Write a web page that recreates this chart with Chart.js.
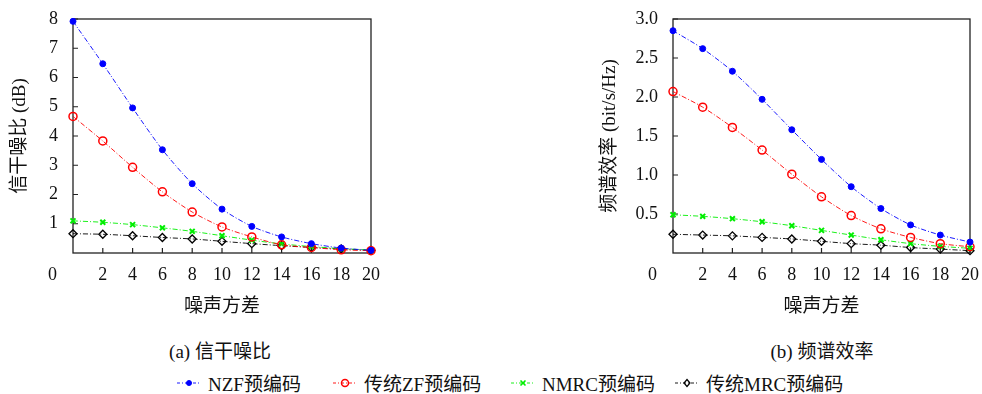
<!DOCTYPE html>
<html>
<head>
<meta charset="utf-8">
<script src="https://cdn.jsdelivr.net/npm/chart.js@4"></script>
<style>
  body { margin: 0; background: #fff; font-family: 'Liberation Serif', 'Noto Sans CJK SC', serif; color: #111; }
  #page { position: relative; width: 982px; height: 394px; overflow: hidden; }
  .box { position: absolute; top: 0; }
  .caption { position: absolute; top: 336px; font-size: 19px; transform: translateX(-50%); white-space: nowrap; }
  .leg { position: absolute; top: 369px; font-size: 19px; white-space: nowrap; display: flex; align-items: center; }
  .leg svg { margin-right: 7px; }
</style>
</head>
<body>
<div id="page">
  <div class="box" style="left:0"><canvas id="sinr" width="400" height="320"></canvas></div>
  <div class="box" style="left:590px"><canvas id="se" width="392" height="320"></canvas></div>
  <div class="caption" style="left:220px">(a) 信干噪比</div>
  <div class="caption" style="left:822px">(b) 频谱效率</div>
  <div id="legend"></div>
</div>
<script>
// noise variance (x axis)
const noiseVar = [0, 2, 4, 6, 8, 10, 12, 14, 16, 18, 20];

// SINR (dB)
const sinrNZF  = [7.92, 6.47, 4.96, 3.53, 2.37, 1.50, 0.91, 0.55, 0.32, 0.17, 0.09];
const sinrZF   = [4.67, 3.83, 2.93, 2.09, 1.40, 0.89, 0.55, 0.28, 0.19, 0.11, 0.08];
const sinrNMRC = [1.10, 1.05, 0.97, 0.86, 0.74, 0.59, 0.44, 0.31, 0.22, 0.15, 0.10];
const sinrMRC  = [0.66, 0.64, 0.59, 0.53, 0.48, 0.40, 0.32, 0.25, 0.19, 0.14, 0.09];

// spectral efficiency (bit/s/Hz)
const seNZF  = [2.85, 2.62, 2.33, 1.97, 1.58, 1.20, 0.85, 0.57, 0.36, 0.23, 0.14];
const seZF   = [2.07, 1.87, 1.61, 1.32, 1.01, 0.72, 0.48, 0.31, 0.20, 0.12, 0.08];
const seNMRC = [0.49, 0.47, 0.44, 0.40, 0.35, 0.29, 0.23, 0.17, 0.12, 0.085, 0.06];
const seMRC  = [0.24, 0.23, 0.22, 0.20, 0.18, 0.15, 0.12, 0.10, 0.07, 0.05, 0.03];

const seriesNames = ['NZF预编码', '传统ZF预编码', 'NMRC预编码', '传统MRC预编码'];

const FONT = "'Liberation Serif', 'Noto Sans CJK SC', serif";
const dash = [5, 2, 1, 2];

const styles = [
  { color: '#0000ff', pointStyle: 'circle', radius: 3, fill: '#0000ff', bw: 1 },
  { color: '#ff0000', pointStyle: 'circle', radius: 4, fill: 'rgba(0,0,0,0)', bw: 1.5 },
  { color: '#00ee00', pointStyle: 'crossRot', radius: 3.5, fill: '#00ee00', bw: 2 },
  { color: '#000000', pointStyle: 'rectRot', radius: 4, fill: 'rgba(0,0,0,0)', bw: 1.3 }
];

function makeSets(arrs) {
  return arrs.map((arr, i) => ({
    label: seriesNames[i],
    data: noiseVar.map((x, j) => ({ x: x, y: arr[j] })),
    borderColor: styles[i].color,
    borderWidth: 0.9,
    borderDash: dash,
    tension: 0.25,
    pointStyle: styles[i].pointStyle,
    pointRadius: styles[i].radius,
    pointBackgroundColor: styles[i].fill,
    pointBorderColor: styles[i].color,
    pointBorderWidth: styles[i].bw,
    clip: false
  }));
}

// frame, inward tick marks, shared "0" corner label
const framePlugin = {
  id: 'frame',
  beforeDatasetsDraw(chart) {
    const { ctx, chartArea: a, scales } = chart;
    ctx.save();
    ctx.strokeStyle = '#222';
    ctx.lineWidth = 1.3;
    ctx.strokeRect(a.left, a.top, a.right - a.left, a.bottom - a.top);
    ctx.lineWidth = 1.2;
    ctx.beginPath();
    scales.x.ticks.forEach(t => {
      if (t.value === 0) return;
      const px = scales.x.getPixelForValue(t.value);
      ctx.moveTo(px, a.bottom);
      ctx.lineTo(px, a.bottom - 5);
    });
    scales.y.ticks.forEach(t => {
      if (t.value === 0) return;
      const py = scales.y.getPixelForValue(t.value);
      ctx.moveTo(a.left, py);
      ctx.lineTo(a.left + 5, py);
    });
    ctx.stroke();
    ctx.fillStyle = '#111';
    ctx.font = '18px ' + FONT;
    ctx.textAlign = 'right';
    ctx.textBaseline = 'middle';
    ctx.fillText('0', a.left - 16, a.bottom + 22);
    ctx.restore();
  }
};

function makeChart(id, arrs, yMax, yStep, yTitle, yWidth, padRight, digits) {
  return new Chart(document.getElementById(id), {
    type: 'line',
    data: { datasets: makeSets(arrs) },
    plugins: [framePlugin],
    options: {
      responsive: false,
      animation: false,
      layout: { padding: { top: 19, right: padRight, left: 0, bottom: 0 } },
      plugins: { legend: { display: false }, tooltip: { enabled: false } },
      scales: {
        x: {
          type: 'linear', min: 0, max: 20,
          grid: { display: false, drawTicks: false },
          border: { display: false },
          ticks: {
            stepSize: 2, padding: 11, color: '#111', maxRotation: 0,
            font: { family: FONT, size: 18 },
            callback: v => (v === 0 ? '' : v)
          },
          title: { display: true, text: '噪声方差', color: '#111', padding: { top: 0, bottom: 2 }, font: { family: FONT, size: 19 } },
          afterFit: s => { s.height = 67; s.paddingRight = 0; s.paddingLeft = 0; }
        },
        y: {
          min: 0, max: yMax,
          grid: { display: false, drawTicks: false },
          border: { display: false },
          ticks: {
            stepSize: yStep, padding: 15, color: '#111',
            font: { family: FONT, size: 18 },
            callback: v => (v === 0 ? '' : v.toFixed(digits))
          },
          title: { display: true, text: yTitle, color: '#111', padding: { top: 9, bottom: 0 }, font: { family: FONT, size: 19 } },
          afterFit: s => { s.width = yWidth; s.paddingTop = 0; s.paddingBottom = 0; }
        }
      }
    }
  });
}

makeChart('sinr', [sinrNZF, sinrZF, sinrNMRC, sinrMRC], 8, 1, '信干噪比 (dB)', 73, 29, 0);
makeChart('se', [seNZF, seZF, seNMRC, seMRC], 3, 0.5, '频谱效率 (bit/s/Hz)', 83, 12, 1);

// shared legend under both panels
const legendLeft = [177, 333, 511, 675];
const legendBox = document.getElementById('legend');
seriesNames.forEach((name, i) => {
  const st = styles[i];
  let mark = '';
  if (st.pointStyle === 'circle') {
    mark = `<circle cx="12" cy="6" r="${st.radius - 0.5}" fill="${st.fill}" stroke="${st.color}" stroke-width="${st.bw}"/>`;
  } else if (st.pointStyle === 'crossRot') {
    mark = `<path d="M9.5 3.5 L14.5 8.5 M14.5 3.5 L9.5 8.5" stroke="${st.color}" stroke-width="1.6"/>`;
  } else {
    mark = `<path d="M12 2.5 L15 6 L12 9.5 L9 6 Z" fill="none" stroke="${st.color}" stroke-width="1.2"/>`;
  }
  const el = document.createElement('div');
  el.className = 'leg';
  el.style.left = legendLeft[i] + 'px';
  el.innerHTML = `<svg width="24" height="12"><line x1="0" y1="6" x2="24" y2="6" stroke="${st.color}" stroke-width="0.9" stroke-dasharray="3 2 1 2"/>${mark}</svg><span>${name}</span>`;
  legendBox.appendChild(el);
});
</script>
</body>
</html>
